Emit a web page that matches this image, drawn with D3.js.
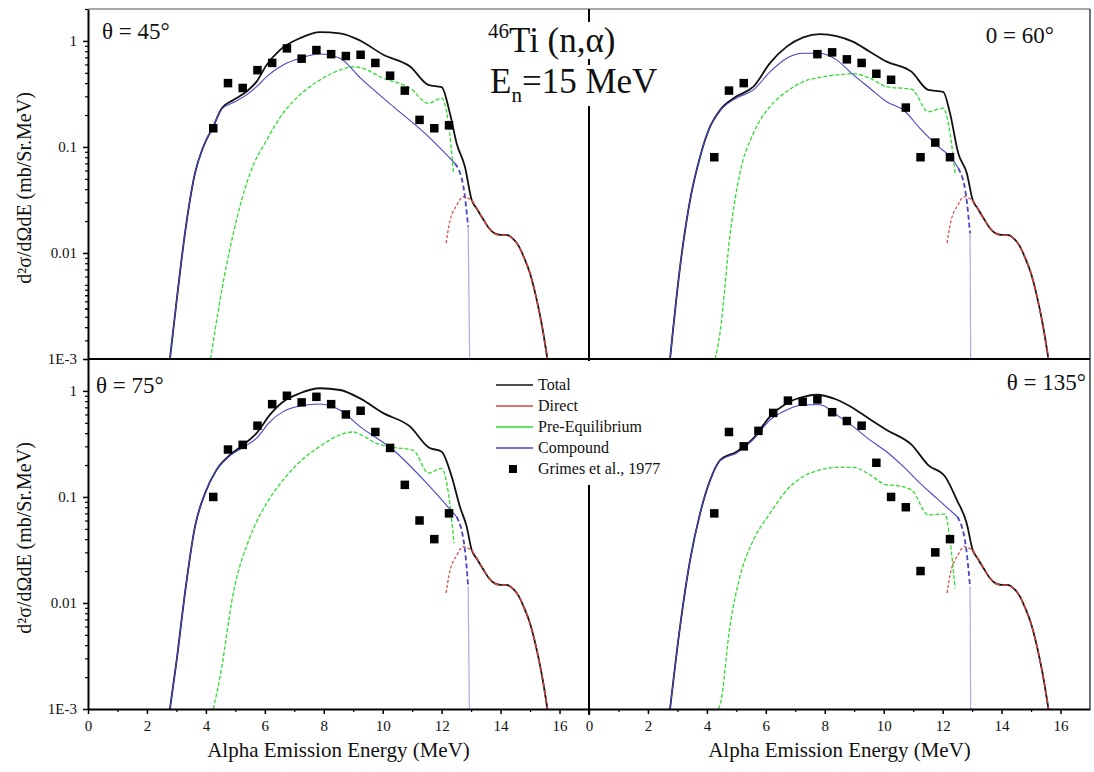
<!DOCTYPE html>
<html><head><meta charset="utf-8">
<script src="https://cdn.jsdelivr.net/npm/d3@7"></script>
<style>
html,body{margin:0;padding:0;background:#fff;}
svg text{font-family:"Liberation Serif","Times New Roman",serif;fill:#111;}
</style></head><body>
<svg id="chart" width="1094" height="772"></svg>
<script>
// ---- 46Ti(n,alpha), En = 15 MeV : double-differential alpha spectra ----

// Grimes et al., 1977 measured points: energy (MeV) and cross section (mb/sr.MeV)
const expE = [4.25,4.75,5.25,5.75,6.25,6.75,7.25,7.75,8.25,8.75,9.25,9.75,10.25,10.75,11.25,11.75,12.25];
const expE60 = [4.25,4.75,5.25,7.75,8.25,8.75,9.25,9.75,10.25,10.75,11.25,11.75,12.25];
const exp45  = [0.15,0.40,0.36,0.53,0.62,0.85,0.68,0.82,0.75,0.72,0.74,0.62,0.47,0.34,0.18,0.15,0.16];
const exp60  = [0.08,0.34,0.40,0.75,0.78,0.67,0.62,0.49,0.43,0.235,0.08,0.11,0.08];
const exp75  = [0.10,0.28,0.31,0.47,0.75,0.90,0.78,0.88,0.75,0.60,0.65,0.41,0.29,0.13,0.06,0.04,0.07];
const exp135 = [0.07,0.41,0.30,0.42,0.62,0.81,0.79,0.83,0.63,0.52,0.47,0.21,0.10,0.08,0.02,0.03,0.04];

// Direct component: rising part (below the total) and the high-energy tail
const directRise = [[12.15,0.0124],[12.28,0.020],[12.4,0.025],[12.51,0.028],[12.62,0.032],[12.74,0.034],[12.88,0.033],[13.02,0.0316]];
const directTail = [[13.02,0.0316],[13.2,0.026],[13.4,0.021],[13.6,0.0172],[13.8,0.0153],[14.0,0.0148],[14.2,0.0148],[14.4,0.0138],[14.6,0.0118],[14.8,0.009],[15.0,0.0064],[15.2,0.0039],[15.4,0.0021],[15.59,0.001]];

// Total (up to the point where the direct tail takes over)
const total45 = [[2.78,0.001],[3.01,0.0036],[3.29,0.0153],[3.63,0.0565],[3.91,0.10],[4.25,0.156],[4.54,0.232],[4.93,0.277],[5.38,0.333],[5.72,0.413],[6.06,0.594],[6.51,0.82],[7.19,1.06],[7.87,1.21],[8.55,1.18],[9.23,1.01],[10.02,0.74],[10.93,0.573],[11.55,0.385],[12.0,0.366],[12.28,0.208],[12.51,0.108],[12.79,0.065],[13.02,0.0316]];
const total60 = [[2.75,0.001],[3.09,0.0074],[3.43,0.0316],[3.77,0.081],[4.11,0.156],[4.45,0.223],[5.01,0.30],[5.58,0.37],[6.14,0.617],[6.71,0.883],[7.27,1.08],[7.84,1.16],[8.4,1.11],[8.97,0.98],[9.53,0.79],[10.1,0.638],[10.95,0.51],[11.51,0.345],[12.02,0.33],[12.25,0.208],[12.53,0.087],[12.82,0.0565],[13.02,0.0316]];
const total75 = [[2.78,0.001],[3.01,0.0029],[3.29,0.0124],[3.63,0.0525],[3.97,0.108],[4.36,0.18],[4.82,0.249],[5.27,0.31],[5.72,0.40],[6.17,0.594],[6.62,0.79],[7.19,0.95],[7.87,1.06],[8.55,1.02],[9.23,0.85],[10.02,0.617],[10.93,0.46],[11.55,0.294],[12.0,0.267],[12.34,0.156],[12.62,0.081],[12.85,0.0525],[13.02,0.0316]];
const total135 = [[2.75,0.001],[3.09,0.006],[3.43,0.0254],[3.77,0.07],[4.11,0.144],[4.45,0.223],[5.01,0.267],[5.58,0.358],[6.14,0.573],[6.71,0.766],[7.27,0.88],[7.72,0.92],[8.4,0.83],[8.97,0.687],[9.53,0.54],[10.1,0.428],[10.95,0.31],[11.51,0.2],[12.08,0.156],[12.48,0.094],[12.82,0.056],[13.02,0.0316]];

// Compound nucleus component (last points: steep fall-off near the end point)
const comp45 = [[2.78,0.001],[3.01,0.0036],[3.29,0.0153],[3.63,0.0565],[3.91,0.10],[4.25,0.156],[4.54,0.228],[4.93,0.262],[5.38,0.31],[5.72,0.37],[6.06,0.46],[6.62,0.594],[7.19,0.687],[7.87,0.753],[8.55,0.687],[9.23,0.45],[10.36,0.24],[11.49,0.13],[12.45,0.070],[12.74,0.042],[12.9,0.0177],[12.95,0.001]];
const comp60 = [[2.75,0.001],[3.09,0.0074],[3.43,0.0316],[3.77,0.081],[4.11,0.156],[4.45,0.22],[5.01,0.29],[5.58,0.345],[6.14,0.51],[6.71,0.687],[7.27,0.766],[7.84,0.766],[8.4,0.662],[8.97,0.478],[9.53,0.358],[10.1,0.267],[10.67,0.223],[11.23,0.15],[11.8,0.104],[12.36,0.075],[12.53,0.063],[12.8,0.034],[12.93,0.0153],[12.95,0.001]];
const comp75 = [[2.78,0.001],[3.01,0.0029],[3.29,0.0124],[3.63,0.0525],[3.97,0.108],[4.36,0.178],[4.82,0.245],[5.27,0.294],[5.72,0.358],[6.17,0.51],[6.62,0.638],[7.19,0.72],[7.87,0.753],[8.55,0.66],[9.23,0.46],[10.36,0.277],[11.49,0.135],[12.26,0.078],[12.51,0.065],[12.79,0.0316],[12.9,0.0143],[12.94,0.001]];
const comp135 = [[2.75,0.001],[3.09,0.006],[3.43,0.0254],[3.77,0.07],[4.11,0.144],[4.45,0.22],[5.01,0.26],[5.58,0.35],[6.14,0.532],[6.71,0.66],[7.27,0.74],[7.84,0.74],[8.4,0.594],[8.97,0.46],[9.53,0.345],[10.1,0.267],[10.67,0.193],[11.23,0.135],[11.8,0.097],[12.5,0.065],[12.79,0.034],[12.93,0.0143],[12.95,0.001]];

// Pre-equilibrium component
const preq45 = [[4.16,0.001],[4.48,0.0036],[4.93,0.0153],[5.5,0.0565],[6.06,0.116],[6.62,0.208],[7.19,0.31],[7.87,0.428],[8.55,0.532],[9.0,0.57],[9.23,0.56],[10.02,0.445],[10.93,0.358],[11.55,0.258],[12.0,0.288],[12.23,0.168],[12.40,0.058]];
const preq60 = [[4.28,0.001],[4.45,0.0018],[4.79,0.0153],[5.12,0.0565],[5.58,0.135],[6.14,0.24],[6.71,0.333],[7.27,0.413],[7.84,0.454],[8.4,0.478],[8.97,0.49],[9.53,0.445],[10.1,0.37],[10.95,0.35],[11.51,0.215],[12.02,0.232],[12.25,0.135],[12.42,0.0565]];
const preq75 = [[4.25,0.001],[4.48,0.002],[4.93,0.0124],[5.5,0.042],[6.06,0.087],[6.62,0.144],[7.19,0.215],[7.87,0.30],[8.55,0.385],[9.0,0.41],[9.23,0.39],[9.79,0.32],[10.36,0.294],[11.04,0.275],[11.55,0.168],[12.0,0.186],[12.23,0.108],[12.42,0.0365]];
const preq135 = [[4.39,0.001],[4.45,0.0011],[4.78,0.006],[5.12,0.0177],[5.58,0.0393],[6.14,0.07],[6.71,0.116],[7.27,0.156],[7.84,0.18],[8.4,0.19],[8.97,0.19],[9.53,0.162],[10.1,0.13],[10.44,0.128],[10.95,0.116],[11.51,0.0677],[12.08,0.069],[12.25,0.0393],[12.42,0.0137]];

// Axis ticks
const xMajor = [0,2,4,6,8,10,12,14,16];
const xMinor = [1,3,5,7,9,11,13,15];
const yMajor = [1,0.1,0.01,0.001];
const yMajorLabels = ["1","0.1","0.01","1E-3"];
const yMinor = [2,3,4,5,6,7,8,9,0.2,0.3,0.4,0.5,0.6,0.7,0.8,0.9,0.02,0.03,0.04,0.05,0.06,0.07,0.08,0.09,0.002,0.003,0.004,0.005,0.006,0.007,0.008,0.009];

const legendLabels = ["Total","Direct","Pre-Equilibrium","Compound","Grimes et al., 1977"];
const colors = {total:"#111111", direct:"#d8403a", preq:"#2fdc2f", comp:"#4646c4"};

const svg = d3.select("#chart");
const PW = 501, PH = 350;
const plotLeft = 88, plotTop = 9;

const panels = [
  {label:"θ = 45°", col:0, row:0, total:total45, comp:comp45, preq:preq45, eE:expE,   eV:exp45,  lx:102, ly:39, anchor:"start"},
  {label:"0 = 60°", col:1, row:0, total:total60, comp:comp60, preq:preq60, eE:expE60, eV:exp60,  lx:1054, ly:43, anchor:"end"},
  {label:"θ = 75°", col:0, row:1, total:total75, comp:comp75, preq:preq75, eE:expE,   eV:exp75,  lx:96, ly:393, anchor:"start"},
  {label:"θ = 135°", col:1, row:1, total:total135, comp:comp135, preq:preq135, eE:expE, eV:exp135, lx:1086, ly:390, anchor:"end"}
];

panels.forEach(p => {
  const x0 = plotLeft + p.col*PW, y0 = plotTop + p.row*PH;
  const x = d3.scaleLinear().domain([0,17]).range([x0, x0+PW]);
  const y = d3.scaleLog().domain([1e-3,2]).range([y0+PH, y0]);
  const line = d3.line().x(d=>x(d[0])).y(d=>y(d[1])).curve(d3.curveMonotoneX);
  const g = svg.append("g");

  // pre-equilibrium
  g.append("path").attr("d", line(p.preq)).attr("fill","none")
    .attr("stroke",colors.preq).attr("stroke-width",1.3).attr("stroke-dasharray","4,2");

  // total
  g.append("path").attr("d", line(p.total.concat(directTail.slice(1)))).attr("fill","none")
    .attr("stroke",colors.total).attr("stroke-width",1.8).attr("stroke-linejoin","round");

  // compound: solid body, dashed fall-off, faint drop to the end point
  const n = p.comp.length;
  g.append("path").attr("d", line(p.comp.slice(0, n-3))).attr("fill","none")
    .attr("stroke",colors.comp).attr("stroke-width",1.1);
  g.append("path").attr("d", line(p.comp.slice(n-4, n-1))).attr("fill","none")
    .attr("stroke",colors.comp).attr("stroke-width",1.8).attr("stroke-dasharray","5,3");
  g.append("path").attr("d", d3.line().x(d=>x(d[0])).y(d=>y(d[1]))(p.comp.slice(n-2))).attr("fill","none")
    .attr("stroke",colors.comp).attr("stroke-opacity",0.45).attr("stroke-width",1.2);

  // direct
  g.append("path").attr("d", line(directRise)).attr("fill","none")
    .attr("stroke",colors.direct).attr("stroke-width",1.2).attr("stroke-dasharray","3,2");
  g.append("path").attr("d", line(directTail)).attr("fill","none")
    .attr("stroke",colors.direct).attr("stroke-width",1.5).attr("stroke-dasharray","5,3");

  // measured points
  const s = 8.5;
  g.selectAll("rect.pt").data(p.eE.map((e,i)=>[e,p.eV[i]])).enter().append("rect")
    .attr("x",d=>x(d[0])-s/2).attr("y",d=>y(d[1])-s/2).attr("width",s).attr("height",s)
    .attr("fill","#000");

  // angle label
  svg.append("text").attr("x",p.lx).attr("y",p.ly).attr("text-anchor",p.anchor)
    .attr("font-size",23).text(p.label);

  // y axis on the left column
  if (p.col === 0) {
    const ax = svg.append("g").attr("transform",`translate(${x0},0)`)
      .call(d3.axisLeft(y).tickValues(yMajor).tickSize(5).tickSizeOuter(0).tickPadding(6)
        .tickFormat((d,i)=>yMajorLabels[i]));
    ax.select(".domain").attr("stroke","#000").attr("stroke-width",2);
    ax.selectAll(".tick line").attr("stroke","#000").attr("stroke-width",1.5);
    ax.selectAll(".tick text").attr("font-size",15).attr("font-family","Liberation Serif, serif").attr("fill","#222");
    const mi = svg.append("g").attr("transform",`translate(${x0},0)`)
      .call(d3.axisLeft(y).tickValues(yMinor).tickSize(3).tickSizeOuter(0).tickFormat(""));
    mi.select(".domain").remove();
    mi.selectAll(".tick line").attr("stroke","#000").attr("stroke-width",1.2);

    svg.append("text")
      .attr("transform",`translate(31,${y0+PH/2+4}) rotate(-90)`)
      .attr("text-anchor","middle").attr("font-size",20)
      .text("d²σ/dΩdE (mb/Sr.MeV)");
  }

  // x axis on the bottom row
  if (p.row === 1) {
    const ax = svg.append("g").attr("transform",`translate(0,${y0+PH})`)
      .call(d3.axisBottom(x).tickValues(xMajor).tickSize(5).tickSizeOuter(0).tickPadding(6)
        .tickFormat(d3.format("d")));
    ax.select(".domain").attr("stroke","#000").attr("stroke-width",2);
    ax.selectAll(".tick line").attr("stroke","#000").attr("stroke-width",1.5);
    ax.selectAll(".tick text").attr("font-size",15).attr("font-family","Liberation Serif, serif").attr("fill","#222");
    const mi = svg.append("g").attr("transform",`translate(0,${y0+PH})`)
      .call(d3.axisBottom(x).tickValues(xMinor).tickSize(3).tickSizeOuter(0).tickFormat(""));
    mi.select(".domain").remove();
    mi.selectAll(".tick line").attr("stroke","#000").attr("stroke-width",1.2);

    svg.append("text").attr("x",x0+PW/2).attr("y",757).attr("text-anchor","middle")
      .attr("font-size",21).text("Alpha Emission Energy (MeV)");
  }
});

// frame
const frame = svg.append("g").attr("fill","none");
frame.append("line").attr("x1",plotLeft).attr("x2",plotLeft+2*PW).attr("y1",plotTop).attr("y2",plotTop).attr("stroke","#555").attr("stroke-width",1.2);
frame.append("line").attr("x1",plotLeft+2*PW).attr("x2",plotLeft+2*PW).attr("y1",plotTop).attr("y2",plotTop+2*PH).attr("stroke","#444").attr("stroke-width",1.5);
frame.append("line").attr("x1",plotLeft).attr("x2",plotLeft+2*PW).attr("y1",plotTop+PH).attr("y2",plotTop+PH).attr("stroke","#000").attr("stroke-width",2);
frame.append("line").attr("x1",plotLeft+PW).attr("x2",plotLeft+PW).attr("y1",plotTop).attr("y2",plotTop+PH+8).attr("stroke","#000").attr("stroke-width",2);
frame.append("line").attr("x1",plotLeft+PW).attr("x2",plotLeft+PW).attr("y1",plotTop+PH).attr("y2",plotTop+2*PH+6).attr("stroke","#000").attr("stroke-width",2);

// title, with white boxes behind each line
const title = svg.append("g");
const t1 = title.append("text").attr("x",488).attr("y",52).attr("font-size",35);
t1.append("tspan").attr("font-size",21).attr("dy",-14).text("46");
t1.append("tspan").attr("dy",14).text("Ti (n,α)");
const t2 = title.append("text").attr("x",490).attr("y",93).attr("font-size",35);
t2.append("tspan").text("E");
t2.append("tspan").attr("font-size",21).attr("dy",9).text("n");
t2.append("tspan").attr("dy",-9).text("=15 MeV");
[t1,t2].forEach(t => {
  const b = t.node().getBBox();
  title.insert("rect", () => t.node())
    .attr("x",b.x-3).attr("y",b.y+3).attr("width",b.width+6).attr("height",b.height-4).attr("fill","#fff");
});

// legend
const lg = svg.append("g");
lg.append("rect").attr("x",490).attr("y",361).attr("width",175).attr("height",124).attr("fill","#fff");
const legendColors = [colors.total, colors.direct, colors.preq, colors.comp, null];
legendLabels.forEach((lab,i) => {
  const yy = 385 + i*21;
  if (legendColors[i]) {
    lg.append("line").attr("x1",496).attr("x2",533).attr("y1",yy).attr("y2",yy)
      .attr("stroke",legendColors[i]).attr("stroke-width",1.3);
  } else {
    lg.append("rect").attr("x",509).attr("y",yy-4).attr("width",8).attr("height",8).attr("fill","#000");
  }
  lg.append("text").attr("x",538).attr("y",yy+5).attr("font-size",16).text(lab);
});
</script>
</body></html>
